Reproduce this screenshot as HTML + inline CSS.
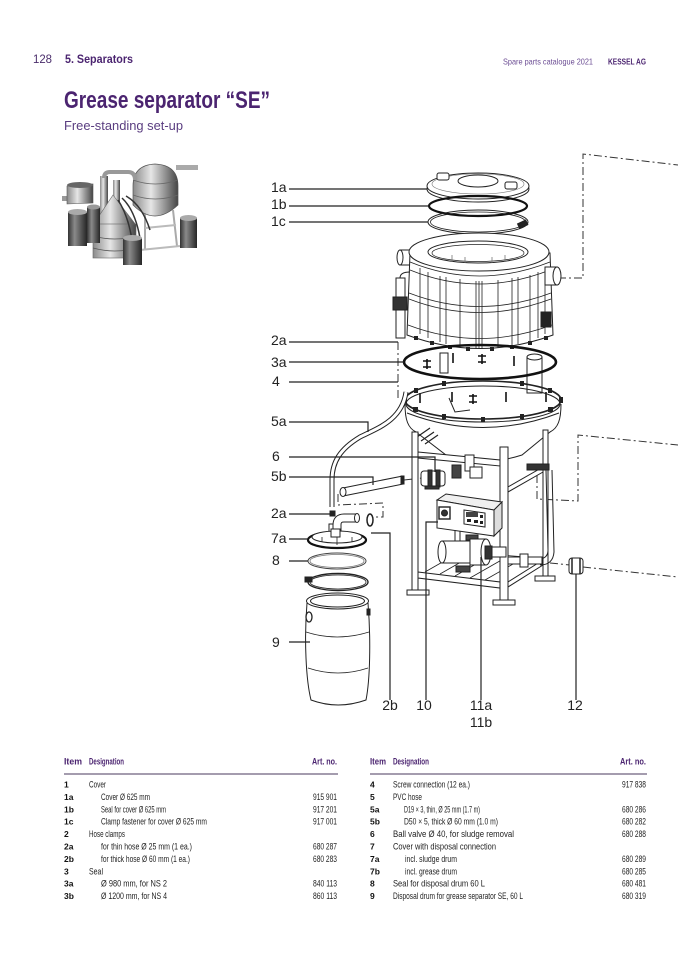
<!DOCTYPE html>
<html><head><meta charset="utf-8"><style>
html,body{margin:0;padding:0;background:#fff;}
svg{display:block;}
text{font-family:"Liberation Sans",sans-serif;}
</style></head><body>
<svg width="678" height="959" viewBox="0 0 678 959" xmlns="http://www.w3.org/2000/svg">
<defs>
<linearGradient id="mg" x1="0" x2="1"><stop offset="0" stop-color="#8a8a8a"/><stop offset="0.4" stop-color="#e6e6e6"/><stop offset="1" stop-color="#454545"/></linearGradient>
<linearGradient id="dg" x1="0" x2="1"><stop offset="0" stop-color="#333"/><stop offset="0.35" stop-color="#8a8a8a"/><stop offset="1" stop-color="#262626"/></linearGradient>
</defs>
<rect width="678" height="959" fill="#fff"/>

<!-- Header -->
<text x="33" y="63" font-size="11.5" fill="#4a2d6b" textLength="19" lengthAdjust="spacingAndGlyphs">128</text>
<text x="65" y="63" font-size="11.5" font-weight="bold" fill="#4b2470" textLength="68" lengthAdjust="spacingAndGlyphs">5. Separators</text>
<text x="503" y="64.5" font-size="8.5" fill="#6b4c93" textLength="90" lengthAdjust="spacingAndGlyphs">Spare parts catalogue 2021</text>
<text x="608" y="64.5" font-size="8.5" font-weight="bold" fill="#4b2470" textLength="38" lengthAdjust="spacingAndGlyphs">KESSEL AG</text>
<text x="64" y="108" font-size="24" font-weight="bold" fill="#4b2470" textLength="206" lengthAdjust="spacingAndGlyphs">Grease separator “SE”</text>
<text x="64" y="130" font-size="13" fill="#5a3d80" textLength="119" lengthAdjust="spacingAndGlyphs">Free-standing set-up</text>

<!-- Thumbnail -->
<g>
<line x1="145" y1="208" x2="145" y2="250" stroke="#aaa" stroke-width="2"/>
<line x1="173" y1="210" x2="177" y2="246" stroke="#aaa" stroke-width="2"/>
<line x1="145" y1="228" x2="176" y2="225" stroke="#bbb" stroke-width="2"/>
<line x1="140" y1="250" x2="180" y2="246" stroke="#bbb" stroke-width="2"/>
<rect x="176" y="165" width="22" height="5" fill="#aaa"/>
<path d="M133,186 Q133,165 155,164 Q178,165 178,186 L178,205 Q166,216 155,216 Q144,216 133,205 Z" fill="url(#mg)" stroke="#555" stroke-width="0.7"/>
<path d="M133,180 Q155,188 178,180 M133,195 Q155,203 178,195" stroke="#666" fill="none" stroke-width="0.7"/>
<rect x="62" y="196" width="10" height="5" fill="#999"/>
<path d="M67,186 L93,184 L93,203 L67,204 Z" fill="url(#mg)" stroke="#555" stroke-width="0.6"/>
<ellipse cx="80" cy="185" rx="13" ry="3" fill="#666"/>
<rect x="100" y="176" width="8" height="46" fill="url(#mg)"/>
<path d="M104,178 Q104,172 110,172 L128,172 Q135,172 135,180" stroke="#999" stroke-width="4" fill="none"/>
<rect x="113" y="180" width="7" height="35" fill="url(#mg)"/>
<path d="M113,195 L136,225 L93,225 Z" fill="url(#mg)" stroke="#666" stroke-width="0.6"/>
<rect x="93" y="224" width="43" height="34" fill="url(#mg)" stroke="#666" stroke-width="0.6"/>
<path d="M93,236 Q115,242 136,236 M93,248 Q115,254 136,248" stroke="#555" fill="none" stroke-width="0.8"/>
<path d="M118,200 Q128,215 132,240 M122,198 Q135,210 140,238 M126,196 Q142,205 150,230" stroke="#333" fill="none" stroke-width="1.5"/>
<rect x="87" y="207" width="13" height="36" fill="url(#dg)"/>
<ellipse cx="93.5" cy="207" rx="6.5" ry="2.5" fill="#999"/>
<rect x="68" y="212" width="19" height="34" fill="url(#dg)"/>
<ellipse cx="77.5" cy="212" rx="9.5" ry="3" fill="#aaa"/>
<rect x="123" y="238" width="19" height="27" fill="url(#dg)"/>
<ellipse cx="132.5" cy="238" rx="9.5" ry="3" fill="#aaa"/>
<rect x="180" y="218" width="17" height="30" fill="url(#dg)"/>
<ellipse cx="188.5" cy="218" rx="8.5" ry="3" fill="#aaa"/>
</g>

<!-- Dash-dot lines -->
<g stroke="#333" stroke-width="1" fill="none" stroke-dasharray="8 3 2 3">
<path d="M558,278 H583 V154 L678,165"/>
<path d="M537,475 V499 L578,501 V435 L678,445"/>
<path d="M550,563 L570,565"/>
<path d="M583,567 L678,577"/>
<path d="M338,494 V505 L383,503 V517 H374"/>
<path d="M398,342 V398"/>
<path d="M404,480 L422,478"/>
</g>
<path d="M479,240 V276" stroke="#333" stroke-width="0.8" stroke-dasharray="3 2"/>

<!-- Drawing -->
<g stroke="#222" stroke-width="1" fill="#fff">
<!-- Lid 1a -->
<ellipse cx="478" cy="189" rx="51" ry="13"/>
<ellipse cx="478" cy="186" rx="51" ry="13"/>
<ellipse cx="478" cy="184" rx="46" ry="10" fill="none" stroke="#777" stroke-width="0.6"/>
<ellipse cx="478" cy="181" rx="20" ry="6"/>
<rect x="437" y="173" width="12" height="7" rx="2"/>
<rect x="505" y="182" width="12" height="7" rx="2"/>
<!-- 1b -->
<ellipse cx="478" cy="206" rx="49" ry="10" fill="none" stroke="#111" stroke-width="2.2"/>
<!-- 1c -->
<ellipse cx="478" cy="222" rx="50" ry="12" fill="none"/>
<ellipse cx="478" cy="222" rx="47.5" ry="10" fill="none" stroke-width="0.8"/>
<rect x="518" y="222" width="9" height="5" fill="#222" transform="rotate(-25 522 224)"/>

<!-- Tank upper body -->
<rect x="400" y="250" width="10" height="15"/>
<ellipse cx="400" cy="257.5" rx="3" ry="7.5"/>
<path d="M410,253 L407,335 Q480,362 553,335 L550,253 Z"/>
<ellipse cx="479" cy="252" rx="70" ry="19"/>
<ellipse cx="478" cy="252" rx="50" ry="11"/>
<ellipse cx="478" cy="253" rx="46" ry="8.5" fill="none" stroke-width="0.7"/>
<g fill="none" stroke-width="0.8">
<path d="M410,262 Q479,290 550,262"/>
<path d="M410,270 Q479,298 550,270"/>
<path d="M409,293 Q479,320 551,293"/>
<path d="M409,299 Q479,326 551,299"/>
<path d="M408,325 Q479,352 552,325"/>
<path d="M420,268 V334 M428,272 V338 M440,276 V342 M446,277 V344 M460,279 V347 M476,281 V349 M479,281 V349 M482,281 V349 M498,280 V348 M512,278 V346 M518,277 V344 M530,275 V341 M538,272 V338 M545,268 V334"/>
<path d="M452,255 V262 M465,257 V263 M492,257 V263 M505,255 V262" stroke="#777"/>
</g>
<rect x="545" y="267" width="12" height="18"/>
<ellipse cx="557" cy="276" rx="4" ry="9"/>
<rect x="396" y="278" width="9" height="60"/>
<path d="M400,278 Q400,272 410,272" fill="none"/>
<rect x="393" y="297" width="14" height="13" fill="#333"/>
<rect x="541" y="312" width="10" height="15" fill="#222"/>
<g fill="#222" stroke="none">
<rect x="414" y="336" width="4" height="4"/><rect x="430" y="341" width="4" height="4"/><rect x="448" y="345" width="4" height="4"/><rect x="466" y="347" width="4" height="4"/><rect x="490" y="347" width="4" height="4"/><rect x="510" y="345" width="4" height="4"/><rect x="528" y="341" width="4" height="4"/><rect x="544" y="336" width="4" height="4"/>
</g>

<!-- Seal 3a internals -->
<rect x="527" y="357" width="15" height="36"/>
<ellipse cx="534.5" cy="357" rx="7.5" ry="3"/>
<rect x="440" y="353" width="8" height="20"/>
<g stroke="#111" stroke-width="1.6" fill="none">
<path d="M427,359 V369 M423,361 H431 M423,367 H431"/>
<path d="M453,353 V363"/>
<path d="M482,354 V364 M478,356 H486 M478,362 H486"/>
<path d="M514,356 V366"/>
<path d="M452,392 V402 M473,394 V404 M469,396 H477 M469,402 H477 M506,392 V402"/>
<path d="M420,393 V403 M546,392 V402"/>
</g>
<ellipse cx="480" cy="362" rx="76" ry="17" fill="none" stroke="#111" stroke-width="2.6"/>

<!-- Bowl -->
<path d="M405,404 C405,420 408,428 416,432 L446,455 Q482,468 522,455 L550,432 C558,428 561,420 561,404"/>
<path d="M407,413 Q483,442 559,413" fill="none"/>
<path d="M417,437 L430,428 M421,441 L434,432 M425,444 L438,435" fill="none" stroke-width="1.2"/>
<path d="M449,398 L455,412 L470,410" fill="none"/>
<!-- Flange 4 -->
<ellipse cx="483" cy="400" rx="78" ry="19" fill="none" stroke-width="1.6"/>
<ellipse cx="483" cy="404" rx="77" ry="18" fill="none"/>
<g fill="#222" stroke="none">
<rect x="559" y="397" width="4" height="6"/><rect x="548" y="407" width="5" height="5"/><rect x="520" y="414" width="4" height="5"/><rect x="481" y="417" width="4" height="5"/><rect x="442" y="414" width="4" height="5"/><rect x="413" y="407" width="5" height="5"/><rect x="403" y="397" width="4" height="6"/><rect x="414" y="388" width="4" height="5"/><rect x="442" y="381" width="4" height="5"/><rect x="520" y="381" width="4" height="5"/><rect x="548" y="388" width="4" height="5"/>
</g>

<!-- Thin hose 5a -->
<path d="M406,392 C402,420 378,428 360,437 C340,449 332,462 332,480 L332,507" fill="none" stroke="#222" stroke-width="5"/>
<path d="M406,392 C402,420 378,428 360,437 C340,449 332,462 332,480 L332,507" fill="none" stroke="#fff" stroke-width="3"/>

<!-- Frame -->
<rect x="412" y="432" width="6" height="160"/>
<rect x="543" y="430" width="5" height="150"/>
<path d="M418,452 L500,460 L500,466 L418,458 Z"/>
<path d="M508,487 L543,467 L543,472 L508,492 Z"/>
<path d="M418,572 L500,582 L500,588 L418,578 Z"/>
<path d="M508,582 L543,560 L543,565 L508,587 Z"/>
<path d="M425,572 L460,552 M440,574 L475,554 M455,576 L490,556 M470,578 L505,558 M485,580 L520,560" fill="none" stroke-width="0.8"/>
<path d="M460,552 L540,558" fill="none" stroke-width="0.8"/>
<rect x="500" y="447" width="8" height="155"/>
<rect x="407" y="590" width="22" height="5"/>
<rect x="493" y="600" width="22" height="5"/>
<rect x="535" y="576" width="20" height="5"/>

<!-- Right pipe -->
<path d="M546,470 L548,550 Q548,558 540,559 M552,470 L554,552 Q553,565 540,565" fill="none"/>
<rect x="527" y="464" width="22" height="6" fill="#333"/>
<rect x="508" y="557" width="34" height="7"/>
<rect x="520" y="554" width="8" height="13"/>

<!-- Outlet and valve 6 -->
<rect x="465" y="455" width="9" height="16"/>
<rect x="452" y="465" width="9" height="13" fill="#444"/>
<rect x="470" y="467" width="12" height="11"/>
<rect x="421" y="471" width="24" height="15" rx="3"/>
<rect x="428" y="470" width="4" height="17" fill="#333"/>
<rect x="436" y="470" width="4" height="17" fill="#333"/>
<rect x="425" y="486" width="14" height="3" fill="#333"/>

<!-- 5b hose -->
<path d="M343,492 L403,480" stroke="#222" stroke-width="9" fill="none"/>
<path d="M343,492 L403,480" stroke="#fff" stroke-width="7" fill="none"/>
<ellipse cx="343" cy="492" rx="3" ry="4.5"/>
<rect x="401" y="476" width="3" height="8" fill="#222"/>

<!-- Control box 10 -->
<path d="M437,500 L446,494 L502,502 L494,510 Z" fill="#f0f0f0"/>
<path d="M437,500 L494,510 L494,536 L437,528 Z"/>
<path d="M494,510 L502,502 L502,528 L494,536 Z" fill="#ddd"/>
<rect x="439" y="507" width="11" height="12" stroke-width="1.4"/>
<circle cx="444.5" cy="513" r="3" fill="#333"/>
<path d="M464,510 L485,513 L485,527 L464,524 Z" stroke-width="1"/>
<rect x="466" y="512" width="12" height="5" fill="#444" stroke="none"/>
<g fill="#222" stroke="none"><rect x="467" y="519" width="4" height="3"/><rect x="474" y="520" width="4" height="3"/><rect x="480" y="515" width="3" height="3"/><rect x="480" y="521" width="3" height="3"/></g>
<rect x="466" y="535" width="12" height="5" fill="#444"/>
<path d="M455,530 V541 M460,531 V541 M474,540 V546" fill="none"/>

<!-- Pump 11 -->
<rect x="442" y="541" width="30" height="22"/>
<ellipse cx="442" cy="552" rx="4" ry="11"/>
<rect x="470" y="539" width="16" height="26"/>
<ellipse cx="486" cy="552" rx="5" ry="13"/>
<rect x="485" y="546" width="7" height="13" fill="#333"/>
<rect x="492" y="547" width="14" height="10"/>
<rect x="456" y="566" width="14" height="6" fill="#444"/>

<!-- Valve 12 -->
<rect x="569" y="558" width="14" height="16" rx="3"/>
<path d="M572,558 V574 M580,558 V574" stroke-width="1.5"/>

<!-- Left parts: clamp, cover, rings, drum -->
<rect x="330" y="511" width="5" height="5" fill="#222"/>
<rect x="329" y="524" width="8" height="12"/>
<path d="M337,532 L337,525 Q337,518 344,518 L357,518" fill="none" stroke="#222" stroke-width="9"/>
<path d="M337,532 L337,525 Q337,518 344,518 L357,518" fill="none" stroke="#fff" stroke-width="7"/>
<ellipse cx="357" cy="518" rx="2.5" ry="4.5"/>
<ellipse cx="370" cy="520" rx="3" ry="6" fill="none" stroke-width="1.5"/>
<ellipse cx="337" cy="540" rx="29" ry="8" stroke="#111" stroke-width="2.2"/>
<ellipse cx="337" cy="537" rx="25" ry="6"/>
<path d="M322,537 V542 M352,537 V542 M337,531 V545" fill="none" stroke-width="0.8"/>
<rect x="331" y="529" width="9" height="8"/>
<ellipse cx="337" cy="561" rx="29" ry="8" fill="none" stroke="#444"/>
<ellipse cx="337" cy="561" rx="27" ry="6.5" fill="none" stroke="#777" stroke-width="0.8"/>
<ellipse cx="338" cy="582" rx="30" ry="8.5" fill="none" stroke-width="1.4"/>
<ellipse cx="338" cy="582" rx="28" ry="7" fill="none" stroke-width="0.8"/>
<rect x="305" y="577" width="7" height="5" fill="#222"/>
<path d="M307,603 C304,640 306,680 311,700 Q338,710 366,700 C370,680 371,640 368,603"/>
<ellipse cx="337.5" cy="601" rx="31" ry="8"/>
<ellipse cx="337.5" cy="601" rx="27" ry="6" fill="none"/>
<path d="M306,632 Q337,642 369,632 M308,668 Q338,678 368,668" fill="none" stroke-width="0.8"/>
<ellipse cx="309" cy="617" rx="3" ry="5" stroke-width="1.3"/>
<rect x="367" y="609" width="3" height="6" fill="#222"/>
</g>

<!-- Leader lines -->
<g stroke="#222" stroke-width="1.2" fill="none">
<path d="M289,189 H427"/>
<path d="M289,206 H429"/>
<path d="M289,222 H428"/>
<path d="M289,342 H398"/>
<path d="M289,362 H404"/>
<path d="M289,382 H398"/>
<path d="M289,422 H368 V432"/>
<path d="M289,457 H435 V472"/>
<path d="M289,477 H373 V485"/>
<path d="M289,514 H330"/>
<path d="M289,539 H308"/>
<path d="M289,561 H308"/>
<path d="M289,642 H310"/>
<path d="M371,533 H390 V700"/>
<path d="M438,522 H426 V700"/>
<path d="M481,557 V700"/>
<path d="M576,574 V700"/>
</g>

<!-- Labels -->
<g font-size="14" fill="#222">
<text x="271" y="192">1a</text>
<text x="271" y="209">1b</text>
<text x="271" y="226">1c</text>
<text x="271" y="345">2a</text>
<text x="271" y="367">3a</text>
<text x="272" y="386">4</text>
<text x="271" y="426">5a</text>
<text x="272" y="461">6</text>
<text x="271" y="481">5b</text>
<text x="271" y="518">2a</text>
<text x="271" y="543">7a</text>
<text x="272" y="565">8</text>
<text x="272" y="647">9</text>
<text x="390" y="710" text-anchor="middle">2b</text>
<text x="424" y="710" text-anchor="middle">10</text>
<text x="481" y="710" text-anchor="middle">11a</text>
<text x="481" y="727" text-anchor="middle">11b</text>
<text x="575" y="710" text-anchor="middle">12</text>
</g>

<!-- Tables -->
<g font-size="9" font-weight="bold" fill="#4b2470">
<text x="64" y="764.5" textLength="18" lengthAdjust="spacingAndGlyphs">Item</text>
<text x="89" y="764.5" textLength="35" lengthAdjust="spacingAndGlyphs">Designation</text>
<text x="337" y="764.5" text-anchor="end" textLength="25" lengthAdjust="spacingAndGlyphs">Art. no.</text>
<text x="370" y="764.5" textLength="16" lengthAdjust="spacingAndGlyphs">Item</text>
<text x="393" y="764.5" textLength="36" lengthAdjust="spacingAndGlyphs">Designation</text>
<text x="646" y="764.5" text-anchor="end" textLength="26" lengthAdjust="spacingAndGlyphs">Art. no.</text>
</g>
<line x1="64" y1="774" x2="338" y2="774" stroke="#4a3a5e" stroke-width="1"/>
<line x1="370" y1="774" x2="647" y2="774" stroke="#4a3a5e" stroke-width="1"/>

<g font-size="8.5" font-weight="bold" fill="#111">
<text x="64" y="787.5">1</text>
<text x="64" y="799.9">1a</text>
<text x="64" y="812.3">1b</text>
<text x="64" y="824.7">1c</text>
<text x="64" y="837.1">2</text>
<text x="64" y="849.5">2a</text>
<text x="64" y="861.9">2b</text>
<text x="64" y="874.3">3</text>
<text x="64" y="886.7">3a</text>
<text x="64" y="899.1">3b</text>
<text x="370" y="787.5">4</text>
<text x="370" y="799.9">5</text>
<text x="370" y="812.3">5a</text>
<text x="370" y="824.7">5b</text>
<text x="370" y="837.1">6</text>
<text x="370" y="849.5">7</text>
<text x="370" y="861.9">7a</text>
<text x="370" y="874.3">7b</text>
<text x="370" y="886.7">8</text>
<text x="370" y="899.1">9</text>
</g>
<g font-size="9" fill="#222">
<text x="89" y="787.5" textLength="17" lengthAdjust="spacingAndGlyphs">Cover</text>
<text x="101" y="799.9" textLength="49" lengthAdjust="spacingAndGlyphs">Cover Ø 625 mm</text>
<text x="101" y="812.3" textLength="65" lengthAdjust="spacingAndGlyphs">Seal for cover Ø 625 mm</text>
<text x="101" y="824.7" textLength="106" lengthAdjust="spacingAndGlyphs">Clamp fastener for cover Ø 625 mm</text>
<text x="89" y="837.1" textLength="36" lengthAdjust="spacingAndGlyphs">Hose clamps</text>
<text x="101" y="849.5" textLength="91" lengthAdjust="spacingAndGlyphs">for thin hose Ø 25 mm (1 ea.)</text>
<text x="101" y="861.9" textLength="89" lengthAdjust="spacingAndGlyphs">for thick hose Ø 60 mm (1 ea.)</text>
<text x="89" y="874.3" textLength="14" lengthAdjust="spacingAndGlyphs">Seal</text>
<text x="101" y="886.7" textLength="66" lengthAdjust="spacingAndGlyphs">Ø 980 mm, for NS 2</text>
<text x="101" y="899.1" textLength="66" lengthAdjust="spacingAndGlyphs">Ø 1200 mm, for NS 4</text>

<text x="337" y="799.9" text-anchor="end" textLength="24" lengthAdjust="spacingAndGlyphs">915 901</text>
<text x="337" y="812.3" text-anchor="end" textLength="24" lengthAdjust="spacingAndGlyphs">917 201</text>
<text x="337" y="824.7" text-anchor="end" textLength="24" lengthAdjust="spacingAndGlyphs">917 001</text>
<text x="337" y="849.5" text-anchor="end" textLength="24" lengthAdjust="spacingAndGlyphs">680 287</text>
<text x="337" y="861.9" text-anchor="end" textLength="24" lengthAdjust="spacingAndGlyphs">680 283</text>
<text x="337" y="886.7" text-anchor="end" textLength="24" lengthAdjust="spacingAndGlyphs">840 113</text>
<text x="337" y="899.1" text-anchor="end" textLength="24" lengthAdjust="spacingAndGlyphs">860 113</text>

<text x="393" y="787.5" textLength="77" lengthAdjust="spacingAndGlyphs">Screw connection (12 ea.)</text>
<text x="393" y="799.9" textLength="29" lengthAdjust="spacingAndGlyphs">PVC hose</text>
<text x="404" y="812.3" textLength="76" lengthAdjust="spacingAndGlyphs">D19 × 3, thin, Ø 25 mm (1.7 m)</text>
<text x="404" y="824.7" textLength="94" lengthAdjust="spacingAndGlyphs">D50 × 5, thick  Ø 60 mm (1.0 m)</text>
<text x="393" y="837.1" textLength="121" lengthAdjust="spacingAndGlyphs">Ball valve Ø 40, for sludge removal</text>
<text x="393" y="849.5" textLength="103" lengthAdjust="spacingAndGlyphs">Cover with disposal connection</text>
<text x="405" y="861.9" textLength="52" lengthAdjust="spacingAndGlyphs">incl. sludge drum</text>
<text x="405" y="874.3" textLength="52" lengthAdjust="spacingAndGlyphs">incl. grease drum</text>
<text x="393" y="886.7" textLength="92" lengthAdjust="spacingAndGlyphs">Seal for disposal drum 60 L</text>
<text x="393" y="899.1" textLength="130" lengthAdjust="spacingAndGlyphs">Disposal drum for grease separator SE, 60 L</text>

<text x="646" y="787.5" text-anchor="end" textLength="24" lengthAdjust="spacingAndGlyphs">917 838</text>
<text x="646" y="812.3" text-anchor="end" textLength="24" lengthAdjust="spacingAndGlyphs">680 286</text>
<text x="646" y="824.7" text-anchor="end" textLength="24" lengthAdjust="spacingAndGlyphs">680 282</text>
<text x="646" y="837.1" text-anchor="end" textLength="24" lengthAdjust="spacingAndGlyphs">680 288</text>
<text x="646" y="861.9" text-anchor="end" textLength="24" lengthAdjust="spacingAndGlyphs">680 289</text>
<text x="646" y="874.3" text-anchor="end" textLength="24" lengthAdjust="spacingAndGlyphs">680 285</text>
<text x="646" y="886.7" text-anchor="end" textLength="24" lengthAdjust="spacingAndGlyphs">680 481</text>
<text x="646" y="899.1" text-anchor="end" textLength="24" lengthAdjust="spacingAndGlyphs">680 319</text>
</g>
</svg>
</body></html>
